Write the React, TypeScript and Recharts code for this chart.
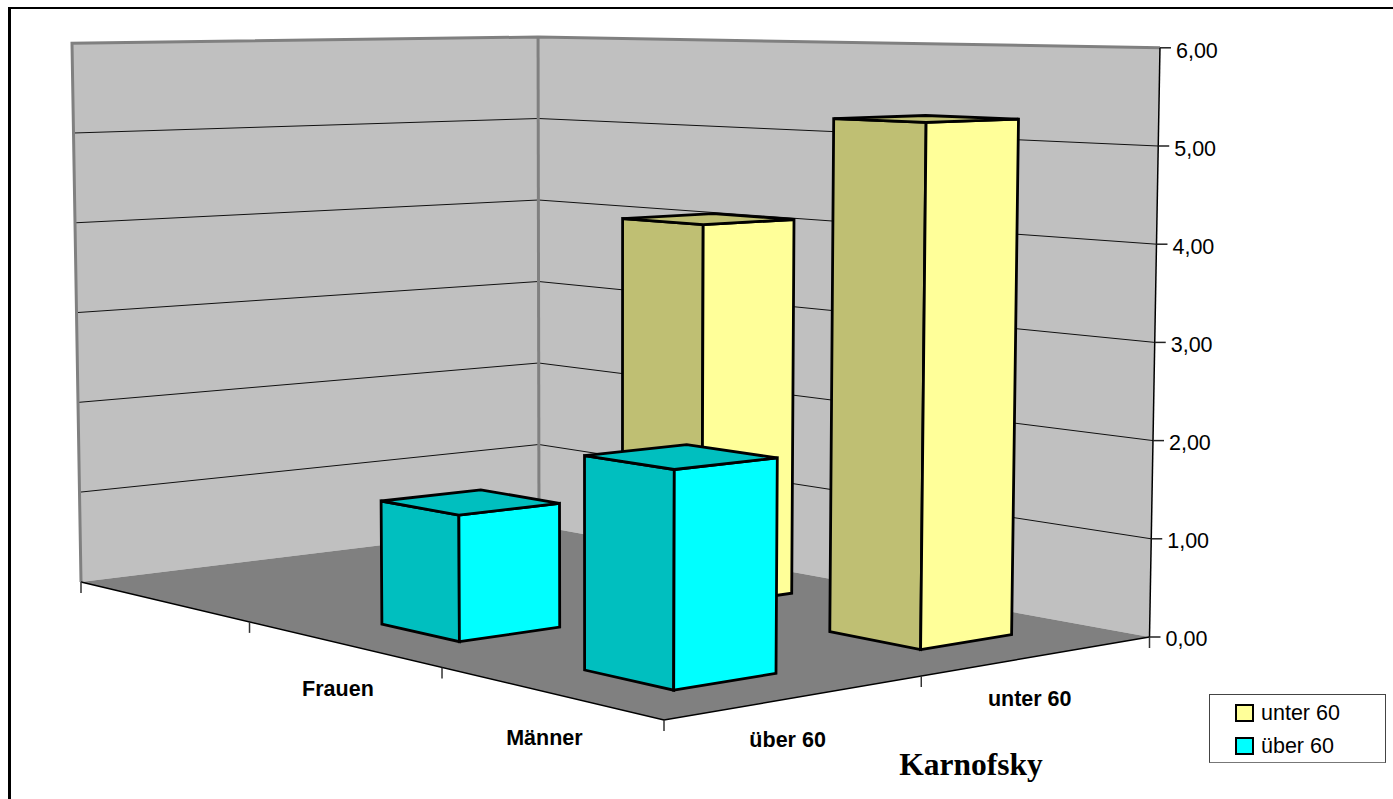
import { BarChart, Bar, XAxis, YAxis, Legend, Customized } from "recharts";

const categories = ["", "Frauen", "Männer"];
const unter60 = [null, 4.08, 5.27];
const ueber60 = [null, 1.28, 2.08];
const yTicks = [0, 1, 2, 3, 4, 5, 6];
const seriesLabels = ["über 60", "unter 60"];

const chartData = categories.map((name, i) => ({
  name,
  unter: unter60[i],
  ueber: ueber60[i],
}));

const WIDTH = 1393;
const HEIGHT = 799;
const LEFT = 81;
const RIGHT = 1149;
const TOP = 48;
const BOTTOM = 637;
const Y_MAX = 6;
const SANS = "'Liberation Sans', Arial, sans-serif";

// floor corners on screen, u runs along the category axis, v goes into depth
const P00 = [81, 582];
const P10 = [664, 720];
const P11 = [1149.5, 637];
const P01 = [539, 526];
// height per value unit grows linearly over the floor, verticals meet far below
const SCALE_A = 0.000163;
const SCALE_B = 0.14955;
const SCALE_C = 2.75;
const VP_X = 599;
const VP_Y = 31580;

const sx = P00[0] - P10[0] + P11[0] - P01[0];
const sy = P00[1] - P10[1] + P11[1] - P01[1];
const d1x = P10[0] - P11[0];
const d2x = P01[0] - P11[0];
const d1y = P10[1] - P11[1];
const d2y = P01[1] - P11[1];
const den = d1x * d2y - d2x * d1y;
const g = (sx * d2y - d2x * sy) / den;
const h = (d1x * sy - sx * d1y) / den;

const project = (u: number, v: number, value = 0) => {
  const w = g * u + h * v + 1;
  const fx = ((P10[0] - P00[0] + g * P10[0]) * u + (P01[0] - P00[0] + h * P01[0]) * v + P00[0]) / w;
  const fy = ((P10[1] - P00[1] + g * P10[1]) * u + (P01[1] - P00[1] + h * P01[1]) * v + P00[1]) / w;
  const lift = (SCALE_A * fx + SCALE_B * fy + SCALE_C) * value;
  return [fx + ((fx - VP_X) / (VP_Y - fy)) * lift, fy - lift];
};

const pts = (list: number[][]) => list.map((p) => p.map((n) => n.toFixed(1)).join(",")).join(" ");
const valueFromY = (y: number) => ((BOTTOM - y) / (BOTTOM - TOP)) * Y_MAX;

const Room = () => {
  const a = project(0, 0);
  const b = project(0, 1);
  const c = project(1, 1);
  const d = project(1, 0);
  const aTop = project(0, 0, Y_MAX);
  const bTop = project(0, 1, Y_MAX);
  const cTop = project(1, 1, Y_MAX);
  return (
    <g>
      <polygon points={pts([a, b, bTop, aTop])} fill="#c0c0c0" />
      <polygon points={pts([b, c, cTop, bTop])} fill="#c0c0c0" />
      <polygon points={pts([a, b, c, d])} fill="#808080" />
      {yTicks.slice(1, -1).map((t) => (
        <polyline
          key={t}
          points={pts([project(0, 0, t), project(0, 1, t), project(1, 1, t)])}
          fill="none"
          stroke="#111"
          strokeWidth={1}
        />
      ))}
      <polyline points={pts([a, aTop, bTop, cTop])} fill="none" stroke="#808080" strokeWidth={3} />
      <line x1={b[0]} y1={b[1]} x2={bTop[0]} y2={bTop[1]} stroke="#808080" strokeWidth={3} />
      <polyline points={pts([a, d, c])} fill="none" stroke="#000" strokeWidth={1.5} />
      <line x1={c[0]} y1={c[1]} x2={cTop[0]} y2={cTop[1]} stroke="#000" strokeWidth={1.5} />
      {[0, 1 / 3, 2 / 3, 1].map((u) => {
        const p = project(u, 0);
        return <line key={u} x1={p[0]} y1={p[1]} x2={p[0]} y2={p[1] + 11} stroke="#333" strokeWidth={1.5} />;
      })}
      {[0.5, 1].map((v) => {
        const p = project(1, v);
        return <line key={v} x1={p[0]} y1={p[1]} x2={p[0]} y2={p[1] + 11} stroke="#333" strokeWidth={1.5} />;
      })}
      {seriesLabels.map((label, i) => {
        const p = project(1, 0.25 + i * 0.5);
        return (
          <text
            key={label}
            x={p[0] - 9}
            y={p[1] + 43}
            textAnchor="middle"
            dominantBaseline="central"
            fontFamily={SANS}
            fontWeight="bold"
            fontSize={21.5}
            fill="#000"
          >
            {label}
          </text>
        );
      })}
      <text x={971} y={775} textAnchor="middle" fontFamily="'Liberation Serif', serif" fontWeight="bold" fontSize={31.5} fill="#000">
        Karnofsky
      </text>
    </g>
  );
};

const BAR_DEPTH = 0.2;

const makeBox = (depth: number, front: string, side: string) => (props: any) => {
  const { x, y, width, value } = props;
  if (value == null || (Array.isArray(value) && value[1] == null)) return null;
  const u1 = (x - LEFT) / (RIGHT - LEFT);
  const u2 = (x + width - LEFT) / (RIGHT - LEFT);
  const v1 = depth - BAR_DEPTH / 2;
  const v2 = depth + BAR_DEPTH / 2;
  const val = valueFromY(y);
  const lf = project(u1, v1);
  const fr = project(u2, v1);
  const rt = project(u2, v2);
  const lfT = project(u1, v1, val);
  const frT = project(u2, v1, val);
  const rtT = project(u2, v2, val);
  const bkT = project(u1, v2, val);
  const edge = { stroke: "#000", strokeWidth: 2.8, strokeLinejoin: "miter" as const };
  return (
    <g>
      <polygon points={pts([lf, fr, frT, lfT])} fill={side} {...edge} />
      <polygon points={pts([fr, rt, rtT, frT])} fill={front} {...edge} />
      <polygon points={pts([lfT, frT, rtT, bkT])} fill={side} {...edge} />
    </g>
  );
};

const YTick = (props: any) => {
  const { y, payload } = props;
  const p = project(1, 1, valueFromY(y));
  return (
    <g>
      <line x1={p[0]} y1={p[1]} x2={p[0] + 11} y2={p[1]} stroke="#222" strokeWidth={1.5} />
      <text x={p[0] + 16} y={p[1] + 2 + payload.value * 0.25} dominantBaseline="central" fontFamily={SANS} fontSize={21.5} fill="#000">
        {payload.value.toFixed(2).replace(".", ",")}
      </text>
    </g>
  );
};

const XTick = (props: any) => {
  const { x, payload } = props;
  if (!payload.value) return null;
  const p = project((x - LEFT) / (RIGHT - LEFT), 0);
  return (
    <text
      x={p[0] - 4.5}
      y={p[1] + 45}
      textAnchor="middle"
      dominantBaseline="central"
      fontFamily={SANS}
      fontWeight="bold"
      fontSize={21.5}
      fill="#000"
    >
      {payload.value}
    </text>
  );
};

const LegendBox = ({ payload }: any) => (
  <div style={{ width: 175, height: 67, border: "1.5px solid #444", borderBottomColor: "#777", background: "#fff", position: "relative", fontFamily: SANS, fontSize: 21.5, color: "#000" }}>
    {(payload || []).map((item: any, i: number) => (
      <div key={item.value} style={{ position: "absolute", left: 25, top: 9 + i * 33, height: 18, display: "flex", alignItems: "center", whiteSpace: "nowrap" }}>
        <span style={{ display: "inline-block", width: 15, height: 14, border: "2.5px solid #000", background: item.color, marginRight: 7 }} />
        {item.value}
      </div>
    ))}
  </div>
);

export default function App() {
  return (
    <div style={{ position: "absolute", left: 0, top: 0, width: WIDTH, height: HEIGHT, overflow: "hidden", background: "#fff" }}>
      <div style={{ position: "absolute", left: 8, top: 7, width: WIDTH, height: HEIGHT, borderLeft: "3px solid #000", borderTop: "2.5px solid #000" }} />
      <div style={{ position: "absolute", left: 0, top: 0 }}>
        <BarChart
          width={WIDTH}
          height={HEIGHT}
          data={chartData}
          margin={{ top: TOP, right: WIDTH - RIGHT - 60, bottom: HEIGHT - BOTTOM - 1, left: LEFT }}
          barCategoryGap="30%"
        >
          <Customized component={Room} />
          <XAxis xAxisId="back" dataKey="name" height={1} axisLine={false} tickLine={false} interval={0} tick={XTick} />
          <XAxis xAxisId="front" dataKey="name" hide />
          <YAxis
            orientation="right"
            width={60}
            domain={[0, Y_MAX]}
            ticks={yTicks}
            axisLine={false}
            tickLine={false}
            interval={0}
            tick={YTick}
          />
          <Bar xAxisId="back" dataKey="unter" name="unter 60" fill="#ffff99" isAnimationActive={false} shape={makeBox(0.75, "#ffff99", "#bfbf73")} />
          <Bar xAxisId="front" dataKey="ueber" name="über 60" fill="#00ffff" isAnimationActive={false} shape={makeBox(0.25, "#00ffff", "#00bfbf")} />
          <Legend layout="vertical" align="center" verticalAlign="middle" content={LegendBox} wrapperStyle={{ left: 1209, top: 694, width: 177, height: 69 }} />
        </BarChart>
      </div>
    </div>
  );
}
